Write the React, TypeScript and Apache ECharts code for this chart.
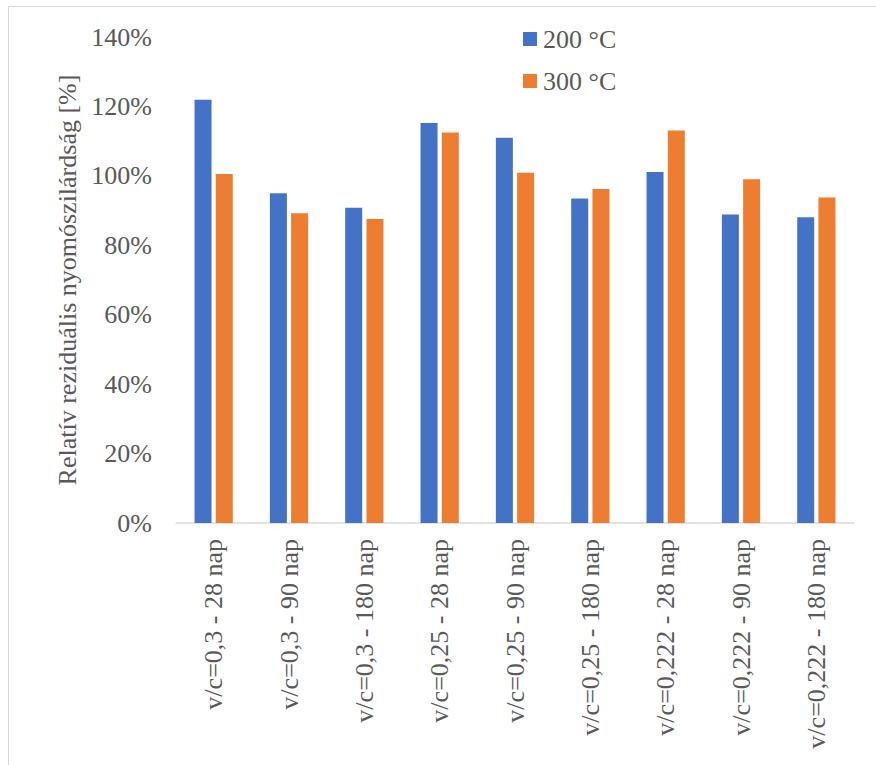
import React, { useEffect, useRef } from "react";
import * as echarts from "echarts";

// Relative residual compressive strength after heating, per mix (v/c) and age
const categories = [
  "v/c=0,3 - 28 nap",
  "v/c=0,3 - 90 nap",
  "v/c=0,3 - 180 nap",
  "v/c=0,25 - 28 nap",
  "v/c=0,25 - 90 nap",
  "v/c=0,25 - 180 nap",
  "v/c=0,222 - 28 nap",
  "v/c=0,222 - 90 nap",
  "v/c=0,222 - 180 nap",
];

const series200 = [121.9, 95.0, 90.8, 115.2, 111.0, 93.5, 101.1, 88.9, 88.1];
const series300 = [100.5, 89.2, 87.6, 112.5, 100.9, 96.2, 113.1, 99.0, 93.8];

const seriesNames = ["200 °C", "300 °C"];
const seriesColors = ["#4472C4", "#ED7D31"];

const FONT = "'Liberation Serif', 'Times New Roman', serif";
const TEXT_COLOR = "#595959";

export default function App() {
  const ref = useRef<HTMLDivElement>(null);

  useEffect(() => {
    document.body.style.margin = "0";
    if (!ref.current) return;
    const chart = echarts.init(ref.current, undefined, { renderer: "svg" });
    chart.setOption({
      animation: false,
      backgroundColor: "#ffffff",
      textStyle: { fontFamily: FONT, color: TEXT_COLOR },
      graphic: [
        {
          type: "line",
          shape: { x1: 8.5, y1: 6.5, x2: 876, y2: 6.5 },
          style: { stroke: "#d9d9d9", lineWidth: 1 },
          silent: true,
        },
        {
          type: "line",
          shape: { x1: 8.5, y1: 6.5, x2: 8.5, y2: 765 },
          style: { stroke: "#d9d9d9", lineWidth: 1 },
          silent: true,
        },
      ],
      legend: {
        orient: "vertical",
        left: 518,
        top: 21,
        itemWidth: 14,
        itemHeight: 14,
        itemGap: 16,
        icon: "rect",
        textStyle: { fontFamily: FONT, fontSize: 26, color: TEXT_COLOR, padding: [0, 0, 0, 1] },
        data: seriesNames,
      },
      grid: { left: 176, right: 22, top: 37, bottom: 242, containLabel: false },
      xAxis: {
        type: "category",
        data: categories,
        axisLine: { lineStyle: { color: "#d9d9d9", width: 1.5 } },
        axisTick: { show: false },
        axisLabel: {
          rotate: 90,
          interval: 0,
          margin: 16,
          fontFamily: FONT,
          fontSize: 26,
          color: TEXT_COLOR,
        },
      },
      yAxis: {
        type: "value",
        min: 0,
        max: 140,
        interval: 20,
        name: "Relatív reziduális nyomószilárdság [%]",
        nameLocation: "middle",
        nameGap: 96,
        nameRotate: 90,
        nameTextStyle: { fontFamily: FONT, fontSize: 26, color: TEXT_COLOR },
        splitLine: { show: false },
        axisLine: { show: false },
        axisTick: { show: false },
        axisLabel: {
          margin: 24,
          fontFamily: FONT,
          fontSize: 26,
          color: TEXT_COLOR,
          formatter: (v: number) => `${v}%`,
        },
      },
      series: [
        {
          name: seriesNames[0],
          type: "bar",
          data: series200,
          barWidth: 17,
          barGap: "25%",
          itemStyle: { color: seriesColors[0] },
        },
        {
          name: seriesNames[1],
          type: "bar",
          data: series300,
          barWidth: 17,
          barGap: "25%",
          itemStyle: { color: seriesColors[1] },
        },
      ],
    });
    return () => chart.dispose();
  }, []);

  return (
    <div
      ref={ref}
      style={{ position: "fixed", left: 0, top: 0, width: 876, height: 765, background: "#fff" }}
    />
  );
}
